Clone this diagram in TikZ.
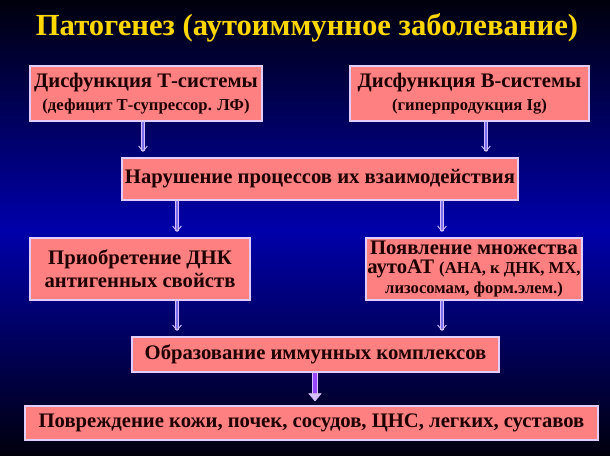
\documentclass[tikz,border=0pt]{standalone}
\usepackage{fontspec}
\setmainfont{Liberation Serif}
\usetikzlibrary{arrows.meta,positioning}
\definecolor{boxfill}{RGB}{255,128,128}
\definecolor{boxline}{RGB}{225,205,255}
\definecolor{bgblue}{RGB}{0,0,170}
\definecolor{bgdark}{RGB}{0,0,12}
\definecolor{titlecol}{RGB}{255,215,0}
\definecolor{linkedge}{RGB}{215,190,255}
\definecolor{linkfill}{RGB}{120,110,235}
\definecolor{thickfill}{RGB}{150,70,255}
\definecolor{textcol}{RGB}{30,0,0}
\tikzset{
  stage/.style={draw=boxline, fill=boxfill, line width=0.9pt, text=textcol,
    font=\bfseries\fontsize{15.5}{17}\selectfont, align=center, inner sep=0pt},
  link/.style={draw=linkedge, double=linkfill, line width=0.7pt, double distance=1.4pt,
    -{Straight Barb[length=4pt,width=6.5pt]}, shorten >=4pt},
  thicklink/.style={draw=linkedge, double=thickfill, line width=0.5pt, double distance=3.5pt,
    -{Triangle[length=6pt,width=10pt]}, shorten >=3pt}
}
\newcommand{\sub}{\fontsize{12.5}{15}\selectfont}
\begin{document}
\begin{tikzpicture}[x=0.75pt,y=-0.75pt]
\useasboundingbox (0,0) rectangle (610,456);
\shade[top color=bgdark, bottom color=bgblue] (0,0) rectangle (610,230);
\shade[top color=bgblue, bottom color=bgdark] (0,230) rectangle (610,456);
\node[text=titlecol, font=\bfseries\fontsize{23}{27}\selectfont] (title) at (307,28) {Патогенез (аутоиммунное заболевание)};
\node[stage, minimum width=174pt, minimum height=41.25pt] (dysT) at (146,93.5)
  {Дисфункция Т-системы\\ {\sub (дефицит Т-супрессор. ЛФ)}};
\node[stage, minimum width=179.25pt, minimum height=41.25pt] (dysB) at (469.5,93.5)
  {Дисфункция В-системы\\ {\sub (гиперпродукция Ig)}};
\node[stage, minimum width=297pt, minimum height=31.5pt] (inter) at (320,179)
  {Нарушение процессов их взаимодействия};
\node[stage, minimum width=165pt, minimum height=46.5pt] (dna) at (140,269)
  {Приобретение ДНК\\ антигенных свойств};
\node[stage, font=\bfseries\fontsize{15.5}{14.5}\selectfont, minimum width=162pt, minimum height=46.5pt]
  (many) at (474,269)
  {Появление множества\\ аутоАТ {\fontsize{12.5}{13.5}\selectfont (АНА, к ДНК, МХ,}\\ {\fontsize{12.5}{13.5}\selectfont лизосомам, форм.элем.)}};
\node[stage, minimum width=275.25pt, minimum height=26.25pt] (immune) at (315.5,354.5)
  {Образование иммунных комплексов};
\node[stage, minimum width=429.75pt, minimum height=25.5pt] (damage) at (311.5,423)
  {Повреждение кожи, почек, сосудов, ЦНС, легких, суставов};
\path
(dysT.south -| 143,0) edge[link] (inter.north -| 143,0)
(dysB.south -| 486,0) edge[link] (inter.north -| 486,0)
(inter.south -| 177,0) edge[link] (dna.north -| 177,0)
(inter.south -| 442,0) edge[link] (many.north -| 442,0)
(dna.south -| 177,0) edge[link] (immune.north -| 177,0)
(many.south -| 442,0) edge[link] (immune.north -| 442,0)
(immune.south -| 315,0) edge[thicklink] (damage.north -| 315,0);
\end{tikzpicture}
\end{document}
